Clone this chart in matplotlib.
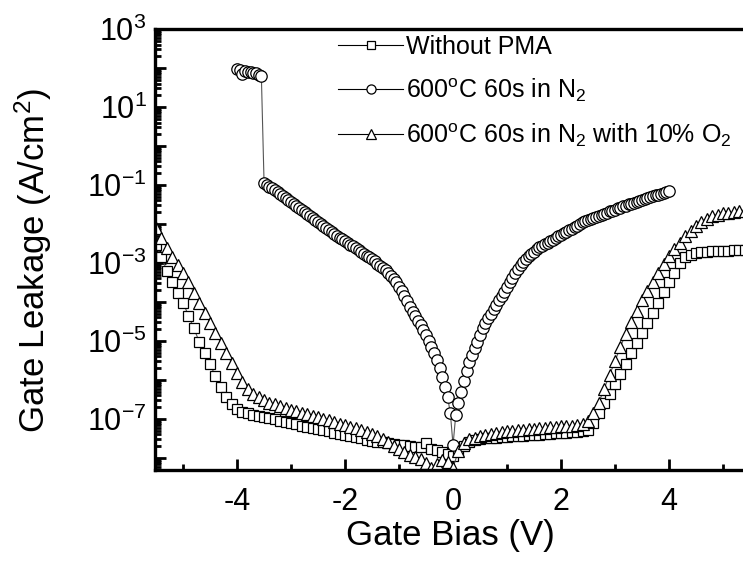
"""Gate leakage vs gate bias, log scale, three annealing conditions."""

import matplotlib

matplotlib.use("Agg")
import matplotlib.pyplot as plt
import numpy as np
from matplotlib.ticker import FixedLocator, FuncFormatter, LogLocator

plt.rcParams["font.family"] = ["Liberation Sans", "DejaVu Sans"]
plt.rcParams["mathtext.fontset"] = "custom"
plt.rcParams["mathtext.rm"] = "Liberation Sans"
plt.rcParams["mathtext.it"] = "Liberation Sans:italic"
plt.rcParams["mathtext.bf"] = "Liberation Sans:bold"
plt.rcParams["axes.unicode_minus"] = False

# bias sweep (V)
bias = np.round(np.arange(-5.5, 5.51, 0.1), 2)
bias_n2 = np.round(np.arange(-4.0, 4.001, 0.05), 2)

# log10 of leakage (A/cm^2)
log_no_pma = [
    -2.55, -2.85, -3.2, -3.5, -3.78, -4.02, -4.35, -4.68, -5.02, -5.32, -5.6,
    -5.9, -6.17, -6.45, -6.63, -6.75, -6.81, -6.85, -6.89, -6.92, -6.95, -6.98,
    -7.01, -7.05, -7.08, -7.11, -7.14, -7.17, -7.2, -7.23, -7.26, -7.29, -7.32,
    -7.35, -7.38, -7.41, -7.44, -7.47, -7.5, -7.53, -7.56, -7.58, -7.6, -7.62,
    -7.64, -7.66, -7.68, -7.7, -7.71, -7.72, -7.62, -7.76, -7.8, -7.85, -7.9,
    -7.95, -7.82, -7.7, -7.6, -7.55, -7.52, -7.5, -7.49, -7.48, -7.47, -7.46,
    -7.45, -7.44, -7.43, -7.42, -7.41, -7.4, -7.39, -7.38, -7.37, -7.36, -7.35,
    -7.34, -7.33, -7.31, -7.28, -7.1, -6.85, -6.6, -6.36, -6.1, -5.85, -5.58,
    -5.32, -5.06, -4.8, -4.55, -4.28, -4.02, -3.75, -3.5, -3.25, -3.0, -2.86,
    -2.79, -2.75, -2.72, -2.71, -2.7, -2.7, -2.69, -2.69, -2.68, -2.68, -2.67,
    -2.67,
]
log_n2 = [
    1.98, 1.96, 1.84, 1.93, 1.9, 1.91, 1.88, 1.86, 1.82, 1.79,
    -0.95, -0.99, -1.04, -1.09, -1.13, -1.18, -1.23, -1.28, -1.33, -1.38,
    -1.43, -1.48, -1.53, -1.58, -1.64, -1.69, -1.74, -1.79, -1.84, -1.89,
    -1.95, -2.0, -2.05, -2.1, -2.15, -2.2, -2.25, -2.3, -2.35, -2.39,
    -2.44, -2.48, -2.53, -2.57, -2.62, -2.67, -2.71, -2.76, -2.81, -2.86,
    -2.91, -2.96, -3.02, -3.07, -3.12, -3.18, -3.25, -3.33, -3.41, -3.5,
    -3.61, -3.72, -3.85, -3.98, -4.12, -4.25, -4.37, -4.48, -4.6, -4.71,
    -4.86, -5.0, -5.16, -5.32, -5.48, -5.7, -5.92, -6.18, -6.45, -6.85,
    -7.67, -6.9, -6.59, -6.3, -6.02, -5.78, -5.55, -5.37, -5.19, -5.02,
    -4.84, -4.66, -4.54, -4.42, -4.3, -4.18, -4.07, -3.96, -3.85, -3.74,
    -3.62, -3.5, -3.38, -3.26, -3.15, -3.06, -2.98, -2.9, -2.83, -2.77,
    -2.71, -2.65, -2.6, -2.56, -2.52, -2.48, -2.44, -2.4, -2.36, -2.32,
    -2.28, -2.24, -2.2, -2.16, -2.12, -2.08, -2.04, -2.0, -1.96, -1.93,
    -1.9, -1.88, -1.85, -1.82, -1.79, -1.77, -1.74, -1.71, -1.68, -1.66,
    -1.63, -1.6, -1.58, -1.55, -1.53, -1.5, -1.48, -1.46, -1.43, -1.41,
    -1.39, -1.36, -1.34, -1.32, -1.29, -1.27, -1.25, -1.22, -1.2, -1.18,
    -1.15,
]
log_n2_o2 = [
    -2.1, -2.35, -2.62, -2.85, -3.05, -3.25, -3.5, -3.76, -4.02, -4.28, -4.54,
    -4.8, -5.05, -5.3, -5.56, -5.82, -6.05, -6.22, -6.36, -6.45, -6.52, -6.58,
    -6.63, -6.68, -6.72, -6.76, -6.8, -6.84, -6.88, -6.92, -6.96, -7.0, -7.04,
    -7.08, -7.12, -7.16, -7.2, -7.24, -7.28, -7.33, -7.38, -7.44, -7.51, -7.6,
    -7.7, -7.78, -7.86, -7.92, -7.97, -8.02, -8.14, -8.27, -8.15, -8.05, -8.1,
    -8.25, -7.82, -7.62, -7.52, -7.48, -7.45, -7.42, -7.39, -7.36, -7.34, -7.32,
    -7.3, -7.29, -7.28, -7.26, -7.25, -7.24, -7.22, -7.21, -7.2, -7.19, -7.18,
    -7.17, -7.15, -7.12, -7.06, -6.85, -6.58, -6.22, -5.87, -5.52, -5.15, -4.82,
    -4.52, -4.22, -3.95, -3.71, -3.48, -3.25, -3.02, -2.82, -2.64, -2.48, -2.32,
    -2.17, -2.04, -1.94, -1.86, -1.8, -1.76, -1.73, -1.71, -1.7, -1.68, -1.67,
    -1.66,
]

labels = [
    "Without PMA",
    r"600$\mathregular{^{o}}$C 60s in N$\mathregular{_{2}}$",
    r"600$\mathregular{^{o}}$C 60s in N$\mathregular{_{2}}$ with 10% O$\mathregular{_{2}}$",
]

fig = plt.figure(figsize=(7.43, 5.63), dpi=100)
ax = fig.add_axes([155 / 743, 93 / 563, 595 / 743, 441 / 563])

common = dict(color="#555555", lw=0.8, mfc="white", mec="black", mew=0.9)
ax.plot(bias, 10.0 ** np.array(log_no_pma), marker="s", ms=6.6, label=labels[0], **common)
ax.plot(bias_n2, 10.0 ** np.array(log_n2), marker="o", ms=8.2, label=labels[1], **common)
ax.plot(bias, 10.0 ** np.array(log_n2_o2), marker="^", ms=8.6, label=labels[2], **common)

ax.set_yscale("log")
ax.set_xlim(-5.52, 5.5)
ax.set_ylim(4.9e-9, 1e3)

ax.xaxis.set_major_locator(FixedLocator([-4, -2, 0, 2, 4]))
ax.xaxis.set_minor_locator(FixedLocator([-5, -3, -1, 1, 3, 5]))
ax.yaxis.set_major_locator(LogLocator(base=10, numticks=30))
ax.yaxis.set_minor_locator(LogLocator(base=10, subs=np.arange(2, 10), numticks=30))


def dec_label(v, pos):
    e = int(round(np.log10(v)))
    if e % 2 == 0:
        return ""
    return r"$\mathregular{10^{%d}}$" % e


ax.yaxis.set_major_formatter(FuncFormatter(dec_label))

ax.tick_params(which="both", direction="in", top=False, right=False, width=2.0)
ax.tick_params(which="major", length=8, labelsize=22)
ax.tick_params(which="minor", length=4)
ax.tick_params(axis="x", which="major", pad=12)
ax.tick_params(axis="y", which="major", pad=6)
for s in ("left", "bottom", "top"):
    ax.spines[s].set_linewidth(2.4)
ax.spines["right"].set_visible(False)

ax.set_xlabel("Gate Bias (V)", fontsize=25)
ax.set_ylabel("Gate Leakage (A/cm$\\mathregular{^{2}}$)", fontsize=25)
ax.xaxis.set_label_coords(0.497, -0.112)
ax.yaxis.set_label_coords(-0.17, 0.475)

leg = ax.legend(
    loc="upper left",
    bbox_to_anchor=(338 / 743, 1 - 35 / 563),
    bbox_transform=fig.transFigure,
    frameon=False,
    fontsize=18,
    numpoints=1,
    handlelength=2.6,
    handletextpad=0.1,
    labelspacing=0.68,
    borderpad=0,
    borderaxespad=0,
    markerscale=0.8,
)
for h in leg.legend_handles:
    h.set_color("black")
    h.set_markeredgecolor("black")

fig.savefig("out.png", dpi=100)
